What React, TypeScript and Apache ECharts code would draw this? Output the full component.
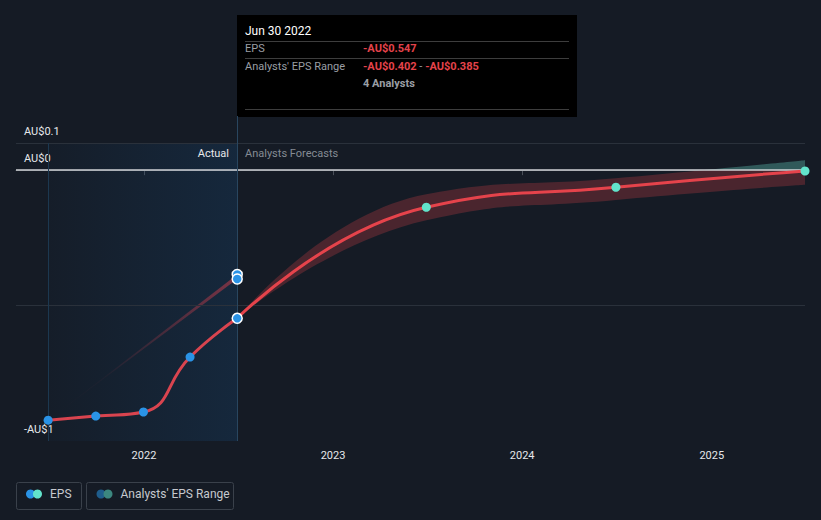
import React, { useEffect, useRef } from 'react';
import * as echarts from 'echarts';

// ---- data ----
const actualDates = ['2021-06-30', '2021-09-30', '2021-12-31', '2022-03-31', '2022-06-30'];
const actualEps = [-0.923, -0.908, -0.893, -0.69, -0.547];

const forecastDates = ['2022-06-30', '2023-06-30', '2024-06-30', '2025-06-30'];
const forecastEps = [-0.547, -0.137, -0.063, -0.003];
const rangeLow = [-0.547, -0.185, -0.11, -0.054];
const rangeHigh = [-0.547, -0.089, -0.03, 0.037];

const pastRangeDates = ['2021-06-30', '2022-06-30'];
const pastRangeLow = [-0.923, -0.402];
const pastRangeHigh = [-0.923, -0.385];

const yTickLabels: [number, string][] = [
  [0.1, 'AU$0.1'],
  [0, 'AU$0'],
  [-1, '-AU$1'],
];

const tooltipTitle = 'Jun 30 2022';
const tooltipEps = '-AU$0.547';
const tooltipRangeLow = '-AU$0.402';
const tooltipRangeHigh = '-AU$0.385';
const tooltipAnalysts = '4 Analysts';

const legendNames = ['EPS', "Analysts' EPS Range"];

const BG = '#151b25';
const RED = '#e5434b';
const FONT = 'Roboto, "Noto Sans", sans-serif';

export default function App() {
  const ref = useRef<HTMLDivElement>(null);
  useEffect(() => {
    const chart = echarts.init(ref.current!, null, { renderer: 'svg' });
    const ts = (d: string) => +new Date(d + 'T00:00:00Z');
    const hoverDate = ts('2022-06-30');
    const startDate = ts(actualDates[0]);

    const series: any[] = [];
    series.push({
      type: 'line',
      name: 'bg',
      data: actualDates.map((d, i) => [ts(d), actualEps[i]]),
      showSymbol: false,
      symbol: 'none',
      lineStyle: { width: 0, opacity: 0 },
      z: 1,
      silent: true,
      markArea: {
        silent: true,
        itemStyle: {
          color: new echarts.graphic.LinearGradient(0, 0, 1, 0, [
            { offset: 0, color: 'rgba(22,70,115,0.05)' },
            { offset: 1, color: 'rgba(22,70,115,0.30)' },
          ]),
        },
        data: [[{ xAxis: startDate, yAxis: 0.1 }, { xAxis: hoverDate, yAxis: -1 }]],
      },
      markLine: {
        silent: true,
        symbol: ['none', 'none'],
        label: { show: false },
        data: [
          { yAxis: 0.1, lineStyle: { color: '#2a313b', width: 1, type: 'solid' } },
          { yAxis: -0.5, lineStyle: { color: '#2a313b', width: 1, type: 'solid' } },
          { yAxis: 0, lineStyle: { color: '#cfd2d6', width: 1.5, type: 'solid' } },
          [
            { xAxis: startDate, yAxis: -1, lineStyle: { color: '#1c3850', width: 1, type: 'solid' } },
            { xAxis: startDate, yAxis: 0.1 },
          ],
          [
            { xAxis: hoverDate, yAxis: -1, lineStyle: { color: '#29465f', width: 1, type: 'solid' } },
            { xAxis: hoverDate, yAxis: 0.2 },
          ],
        ],
      },
    });
    series.push({
      type: 'line',
      name: 'pastLow',
      stack: 'past',
      stackStrategy: 'all',
      z: 2,
      silent: true,
      showSymbol: false,
      symbol: 'none',
      lineStyle: { width: 0 },
      data: pastRangeDates.map((d, i) => [ts(d), pastRangeLow[i]]),
    });
    series.push({
      type: 'line',
      name: 'pastDiff',
      stack: 'past',
      stackStrategy: 'all',
      z: 2,
      silent: true,
      showSymbol: false,
      symbol: 'none',
      lineStyle: { width: 0 },
      areaStyle: {
        opacity: 1,
        color: new echarts.graphic.LinearGradient(0, 0, 1, 0, [
          { offset: 0, color: 'rgba(190,60,75,0)' },
          { offset: 0.3, color: 'rgba(190,60,75,0.05)' },
          { offset: 1, color: 'rgba(190,60,75,0.6)' },
        ]),
      },
      data: pastRangeDates.map((d, i) => [ts(d), pastRangeHigh[i] - pastRangeLow[i]]),
    });
    series.push({
      type: 'line',
      name: 'rangeLow',
      stack: 'range',
      stackStrategy: 'all',
      z: 3,
      silent: true,
      smooth: 0.5,
      showSymbol: false,
      symbol: 'none',
      lineStyle: { width: 0 },
      data: forecastDates.map((d, i) => [ts(d), rangeLow[i]]),
    });
    const rangeDiffIndex = series.length;
    series.push({
      type: 'line',
      name: 'rangeDiff',
      stack: 'range',
      stackStrategy: 'all',
      z: 3,
      silent: true,
      smooth: 0.5,
      showSymbol: false,
      symbol: 'none',
      lineStyle: { width: 0 },
      areaStyle: { opacity: 1 },
      data: forecastDates.map((d, i) => [ts(d), rangeHigh[i] - rangeLow[i]]),
    });
    series.push({
      type: 'line',
      name: 'forecast',
      z: 5,
      silent: true,
      smooth: 0.5,
      symbol: 'circle',
      symbolSize: 9,
      itemStyle: { color: '#62e3cb' },
      lineStyle: { color: RED, width: 3 },
      data: forecastDates.map((d, i) => ({
        value: [ts(d), forecastEps[i]],
        symbol: i === 0 ? 'none' : 'circle',
      })),
    });
    series.push({
      type: 'line',
      name: 'actual',
      z: 6,
      silent: true,
      smooth: 0.5,
      symbol: 'circle',
      symbolSize: 9,
      itemStyle: { color: '#2a93e6' },
      lineStyle: { color: '#d9444f', width: 3 },
      data: actualDates.map((d, i) =>
        i === actualDates.length - 1
          ? {
              value: [ts(d), actualEps[i]],
              symbolSize: 10,
              itemStyle: { color: '#2a93e6', borderColor: '#ffffff', borderWidth: 1.5 },
            }
          : { value: [ts(d), actualEps[i]] }
      ),
    });
    series.push({
      type: 'scatter',
      name: 'pastPts',
      z: 7,
      silent: true,
      symbolSize: 10,
      itemStyle: { color: '#2a93e6', borderColor: '#ffffff', borderWidth: 1.5, opacity: 1 },
      data: [
        [hoverDate, pastRangeHigh[1]],
        [hoverDate, pastRangeLow[1]],
      ],
    });

    const legendTextStyle = { fill: '#c6c9ce', fontSize: 12, fontFamily: FONT };

    const option: any = {
      animation: false,
      backgroundColor: BG,
      grid: { left: 16, right: 16, top: 116, bottom: 79, containLabel: false },
      xAxis: {
        type: 'time',
        min: ts('2021-04-29'),
        max: ts('2025-06-30'),
        splitNumber: 4,
        minInterval: 365 * 864e5,
        axisLine: { show: true, lineStyle: { color: '#4a5059', width: 1 } },
        axisTick: { show: true, length: 5, lineStyle: { color: '#4a5059' } },
        splitLine: { show: false },
        axisLabel: {
          color: '#e6e8eb',
          fontSize: 11,
          fontFamily: FONT,
          margin: 9,
          showMinLabel: false,
          showMaxLabel: false,
          formatter: (v: number) => String(new Date(v).getUTCFullYear()),
        },
      },
      yAxis: {
        type: 'value',
        min: -1,
        max: 0.2,
        interval: 0.1,
        axisLine: { show: false },
        axisTick: { show: false },
        splitLine: { show: false },
        axisLabel: {
          inside: true,
          margin: 8,
          color: '#e6e8eb',
          fontSize: 11,
          fontFamily: FONT,
          verticalAlign: 'bottom',
          padding: [0, 0, 6, 0],
          formatter: (v: number) => {
            const hit = yTickLabels.find(([val]) => Math.abs(val - v) < 1e-6);
            return hit ? hit[1] : '';
          },
        },
      },
      visualMap: {
        show: false,
        type: 'piecewise',
        seriesIndex: rangeDiffIndex,
        dimension: 1,
        pieces: [
          { gte: -5, lt: 0, color: '#4a252e' },
          { gte: 0, lte: 5, color: '#30595a' },
        ],
        outOfRange: { color: '#4a252e' },
      },
      series,
      graphic: [
        {
          type: 'text',
          right: 821 - 229,
          top: 148,
          style: { text: 'Actual', fill: '#e6e8eb', fontSize: 11, fontFamily: FONT },
          z: 20,
        },
        {
          type: 'text',
          left: 245,
          top: 148,
          style: { text: 'Analysts Forecasts', fill: '#858b94', fontSize: 11, fontFamily: FONT },
          z: 20,
        },
        {
          type: 'group',
          left: 237,
          top: 15,
          z: 50,
          children: [
            { type: 'rect', shape: { x: 0, y: 0, width: 340, height: 102 }, style: { fill: '#000000' } },
            {
              type: 'text',
              x: 8,
              y: 16,
              style: { text: tooltipTitle, fill: '#ffffff', fontSize: 12, fontFamily: FONT, verticalAlign: 'middle' },
            },
            { type: 'line', shape: { x1: 8, y1: 26.5, x2: 332, y2: 26.5 }, style: { stroke: '#3d3d3d', lineWidth: 1 } },
            {
              type: 'text',
              x: 8,
              y: 33.5,
              style: { text: 'EPS', fill: '#9a9ea4', fontSize: 11, fontFamily: FONT, verticalAlign: 'middle' },
            },
            {
              type: 'text',
              x: 126,
              y: 33.5,
              style: { text: tooltipEps, fill: RED, fontSize: 11, fontFamily: FONT, fontWeight: 'bold', verticalAlign: 'middle' },
            },
            { type: 'line', shape: { x1: 8, y1: 43.5, x2: 332, y2: 43.5 }, style: { stroke: '#3d3d3d', lineWidth: 1 } },
            {
              type: 'text',
              x: 8,
              y: 51.5,
              style: { text: "Analysts' EPS Range", fill: '#9a9ea4', fontSize: 11, fontFamily: FONT, verticalAlign: 'middle' },
            },
            {
              type: 'text',
              x: 126,
              y: 51.5,
              style: {
                text: '{r|' + tooltipRangeLow + '}{g| - }{r|' + tooltipRangeHigh + '}',
                verticalAlign: 'middle',
                fontFamily: FONT,
                rich: {
                  r: { fill: RED, fontSize: 11, fontWeight: 'bold', fontFamily: FONT },
                  g: { fill: '#9a9ea4', fontSize: 11, fontFamily: FONT },
                },
              },
            },
            {
              type: 'text',
              x: 126,
              y: 68.5,
              style: { text: tooltipAnalysts, fill: '#9a9ea4', fontSize: 11, fontWeight: 'bold', fontFamily: FONT, verticalAlign: 'middle' },
            },
            { type: 'line', shape: { x1: 8, y1: 94.5, x2: 332, y2: 94.5 }, style: { stroke: '#3d3d3d', lineWidth: 1 } },
          ],
        },
        {
          type: 'group',
          left: 16,
          top: 482,
          z: 30,
          children: [
            { type: 'rect', shape: { x: 0.5, y: 0.5, width: 65, height: 27, r: 2 }, style: { fill: 'transparent', stroke: '#3a414b', lineWidth: 1 } },
            { type: 'circle', shape: { cx: 14.5, cy: 12, r: 4.5 }, style: { fill: '#2a93e6' } },
            { type: 'circle', shape: { cx: 21.5, cy: 12, r: 4.5 }, style: { fill: '#62e3cb' } },
            { type: 'text', x: 34, y: 12, style: { ...legendTextStyle, text: legendNames[0], verticalAlign: 'middle' } },
            { type: 'rect', shape: { x: 70.5, y: 0.5, width: 147, height: 27, r: 2 }, style: { fill: 'transparent', stroke: '#3a414b', lineWidth: 1 } },
            { type: 'circle', shape: { cx: 85, cy: 12, r: 4.5 }, style: { fill: '#1f5d8c' } },
            { type: 'circle', shape: { cx: 92, cy: 12, r: 4.5 }, style: { fill: '#3c877f' } },
            { type: 'text', x: 104.5, y: 12, style: { ...legendTextStyle, text: legendNames[1], verticalAlign: 'middle' } },
          ],
        },
      ],
    };
    chart.setOption(option);
    return () => chart.dispose();
  }, []);
  return <div ref={ref} style={{ position: 'absolute', left: 0, top: 0, width: 821, height: 520 }} />;
}
